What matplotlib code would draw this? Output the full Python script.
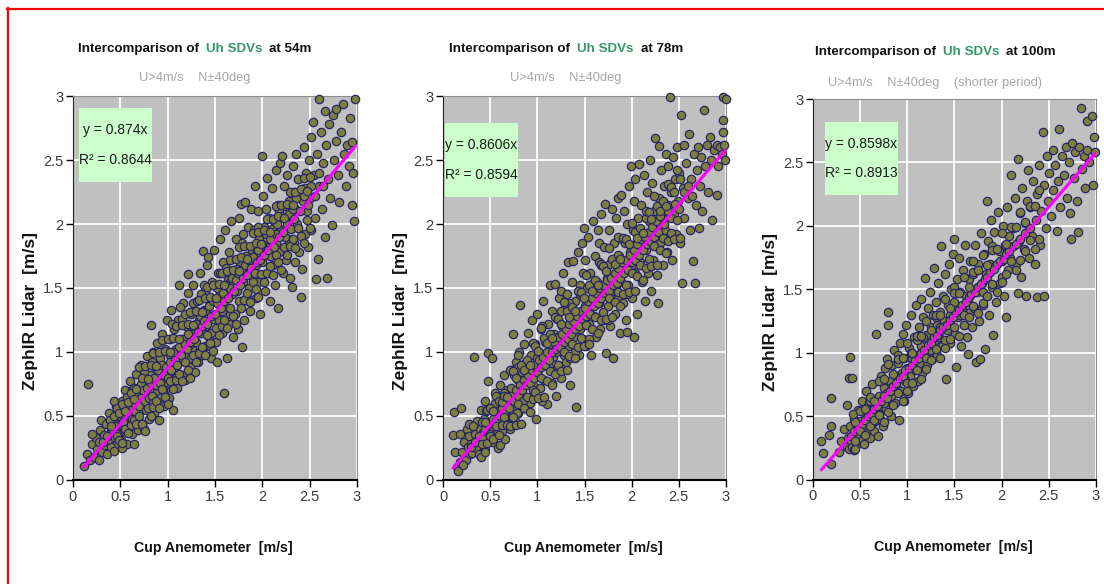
import matplotlib
matplotlib.use("Agg")
import matplotlib.pyplot as plt
from matplotlib.offsetbox import TextArea, HPacker, AnnotationBbox
from matplotlib.lines import Line2D
from matplotlib.patches import Rectangle
from matplotlib.ticker import FixedLocator, FixedFormatter

font = ['Liberation Sans', 'DejaVu Sans']

heights = ['54m', '78m', '100m']
subtitles = ['U>4m/s    N\u00b140deg', 'U>4m/s    N\u00b140deg', 'U>4m/s    N\u00b140deg    (shorter period)']
slopes = [0.874, 0.8606, 0.8598]
slope_labels = ['0.874', '0.8606', '0.8598']
r2_labels = ['0.8644', '0.8594', '0.8913']
ticks = [0, 0.5, 1, 1.5, 2, 2.5, 3]
tick_labels = ['0', '0.5', '1', '1.5', '2', '2.5', '3']
xlabel = 'Cup Anemometer  [m/s]'
ylabel = 'ZephIR Lidar  [m/s]'

pts54 = [
    (0.12,0.11),(0.16,0.75),(0.15,0.20),(0.18,0.16),(0.2,0.28),(0.22,0.18),(0.24,0.33),(0.25,0.24),
    (0.27,0.16),(0.28,0.30),(0.29,0.39),(0.2,0.36),(0.3,0.47),
    (0.31,0.22),(0.33,0.35),(0.34,0.27),(0.35,0.44),(0.37,0.31),(0.38,0.52),(0.4,0.38),(0.41,0.26),
    (0.42,0.45),(0.44,0.33),(0.45,0.58),(0.46,0.40),(0.47,0.28),(0.48,0.50),(0.49,0.36),(0.36,0.20),
    (0.43,0.62),(0.39,0.47),
    (0.5,0.44),(0.51,0.31),(0.52,0.62),(0.53,0.52),(0.54,0.38),(0.55,0.70),(0.56,0.47),(0.57,0.28),
    (0.58,0.57),(0.59,0.42),(0.6,0.77),(0.61,0.50),(0.62,0.36),(0.63,0.64),(0.64,0.28),(0.65,0.56),
    (0.66,0.45),(0.67,0.83),(0.68,0.60),(0.69,0.39),(0.52,0.25),(0.57,0.65),(0.62,0.70),(0.66,0.72),
    (0.7,0.52),(0.71,0.68),(0.72,0.90),(0.73,0.44),(0.74,0.62),(0.75,0.40),(0.76,0.76),(0.77,0.55),
    (0.78,0.97),(0.79,0.67),(0.8,0.48),(0.81,0.82),(0.82,1.21),(0.83,0.60),(0.84,0.73),(0.85,1.00),
    (0.86,0.52),(0.87,0.88),(0.88,0.68),(0.89,1.07),(0.72,0.75),(0.78,0.60),(0.84,0.92),(0.80,0.70),
    (0.9,0.78),(0.91,0.47),(0.92,0.95),(0.93,0.65),(0.94,1.14),(0.95,0.84),(0.96,0.58),(0.97,1.02),
    (0.98,0.74),(0.99,1.25),(1.0,0.90),(1.01,0.64),(1.02,1.10),(1.03,0.80),(1.04,1.33),(1.05,0.96),
    (1.06,0.55),(1.07,1.18),(1.08,0.86),(1.09,1.02),(0.93,0.88),(0.97,0.70),(1.02,0.98),(1.06,0.75),
    (1.1,0.72),(1.11,1.25),(1.12,1.52),(1.13,0.95),(1.14,1.10),(1.15,0.82),(1.16,1.38),(1.17,1.04),
    (1.18,0.78),(1.19,1.20),(1.2,0.94),(1.21,1.46),(1.22,1.61),(1.23,1.12),(1.24,0.88),(1.25,1.30),
    (1.26,1.02),(1.27,1.52),(1.28,1.18),(1.29,0.84),(1.13,1.35),(1.18,0.98),(1.24,1.06),(1.27,1.38),
    (1.3,1.08),(1.31,1.40),(1.32,0.92),(1.33,1.25),(1.34,1.62),(1.35,1.15),(1.36,0.98),(1.37,1.79),
    (1.38,1.33),(1.39,1.05),(1.4,1.48),(1.41,1.20),(1.42,1.68),(1.43,1.74),(1.44,1.12),(1.45,1.38),
    (1.46,0.95),(1.47,1.55),(1.48,1.26),(1.49,1.80),(1.33,1.00),(1.38,1.52),(1.42,1.30),(1.46,1.15),
    (1.5,1.40),(1.51,1.08),(1.52,0.92),(1.53,1.62),(1.54,1.25),(1.55,1.88),(1.56,1.48),(1.57,1.15),
    (1.58,1.70),(1.595,0.68),(1.6,1.35),(1.61,1.95),(1.62,1.22),(1.63,0.95),(1.64,1.56),(1.65,1.78),
    (1.66,1.30),(1.67,2.02),(1.68,1.45),(1.69,1.12),(1.52,1.50),(1.57,1.32),(1.62,1.66),(1.66,1.55),
    (1.7,1.62),(1.71,1.30),(1.72,1.88),(1.73,1.48),(1.74,1.18),(1.75,2.05),(1.76,1.70),(1.77,2.16),
    (1.78,1.40),(1.785,1.04),(1.79,1.85),(1.8,1.55),(1.81,1.25),(1.82,2.17),(1.83,1.75),(1.84,1.45),
    (1.85,1.98),(1.86,1.62),(1.87,1.32),(1.88,2.12),(1.89,1.80),(1.73,1.65),(1.8,1.92),(1.86,1.50),
    (1.9,1.58),(1.91,1.95),(1.92,2.30),(1.93,1.42),(1.94,1.78),(1.95,2.10),(1.96,1.55),(1.97,1.88),
    (1.98,1.30),(1.996,2.53),(2.0,1.70),(2.01,2.22),(2.02,1.98),(2.03,1.48),(2.04,1.82),(2.05,2.36),
    (2.06,1.62),(2.07,2.05),(2.08,1.40),(2.09,1.92),(1.93,1.68),(1.99,1.76),(2.04,2.12),(2.08,1.75),
    (2.1,2.28),(2.11,1.68),(2.12,2.02),(2.13,1.52),(2.14,2.42),(2.15,1.85),(2.165,1.34),(2.17,2.15),
    (2.18,1.78),(2.19,2.48),(2.2,1.95),(2.21,2.53),(2.22,1.62),(2.23,2.30),(2.24,2.05),(2.25,1.72),
    (2.26,2.38),(2.27,1.88),(2.28,2.18),(2.29,1.58),(2.12,1.90),(2.18,2.10),(2.24,1.90),
    (2.3,2.08),(2.31,1.51),(2.32,2.45),(2.33,1.85),(2.34,2.25),(2.35,1.70),(2.36,2.55),(2.37,2.00),
    (2.38,2.35),(2.39,1.78),(2.41,1.43),(2.42,1.65),(2.43,2.18),(2.44,2.60),(2.45,1.92),(2.46,2.40),
    (2.47,2.10),(2.48,1.82),(2.49,2.50),(2.35,2.12),(2.45,2.28),
    (2.5,2.20),(2.51,2.68),(2.52,1.95),(2.54,2.80),(2.55,2.38),(2.56,2.05),(2.57,1.57),(2.58,2.55),
    (2.59,1.73),(2.595,2.98),(2.6,2.30),(2.62,2.72),(2.63,2.12),(2.64,2.48),(2.66,1.90),(2.67,2.62),
    (2.68,1.58),(2.69,2.35),
    (2.7,2.78),(2.72,2.20),(2.74,1.99),(2.75,2.85),(2.76,2.50),(2.78,2.65),(2.8,2.38),(2.81,2.17),
    (2.83,2.72),(2.85,2.94),(2.86,2.55),(2.88,2.30),(2.9,2.62),(2.92,2.45),(2.93,2.83),(2.95,2.64),
    (2.95,2.15),(2.97,2.02),(2.98,2.98),(2.96,2.40),(2.78,2.90),(2.66,2.88),
]
core54 = [
    (0.32,0.30),(0.36,0.34),(0.41,0.40),(0.44,0.42),(0.47,0.36),(0.5,0.50),(0.53,0.45),(0.55,0.40),
    (0.58,0.52),(0.6,0.56),(0.62,0.48),(0.64,0.60),(0.66,0.54),(0.68,0.66),(0.7,0.58),(0.72,0.64),
    (0.74,0.70),(0.76,0.62),(0.78,0.72),(0.8,0.64),(0.82,0.76),(0.84,0.66),(0.86,0.80),(0.88,0.74),
    (0.9,0.86),(0.92,0.76),(0.94,0.90),(0.96,0.82),(0.98,0.88),(1.0,0.80),(1.02,0.92),(1.04,0.86),
    (1.06,1.00),(1.08,0.94),(1.1,0.90),(1.12,1.04),(1.14,0.98),(1.16,1.10),(1.18,1.06),(1.2,1.02),
    (1.22,1.14),(1.24,1.08),(1.26,1.20),(1.28,1.10),(1.3,1.22),(1.32,1.16),(1.34,1.28),(1.36,1.20),
    (1.38,1.24),(1.4,1.32),(1.42,1.22),(1.44,1.36),(1.46,1.28),(1.48,1.40),(1.5,1.30),(1.52,1.38),
    (1.54,1.44),(1.56,1.34),(1.58,1.46),(1.6,1.40),(1.62,1.52),(1.64,1.42),(1.66,1.50),(1.68,1.58),
    (1.7,1.48),(1.72,1.56),(1.74,1.62),(1.76,1.52),(1.78,1.64),(1.8,1.58),(1.82,1.68),(1.84,1.60),
    (1.86,1.72),(1.88,1.66),(1.9,1.74),(1.92,1.62),(1.94,1.70),(1.96,1.80),(1.98,1.72),(2.0,1.84),
    (2.02,1.76),(2.04,1.92),(2.06,1.80),(2.08,1.88),(2.1,1.96),(2.12,1.82),(2.14,1.92),(2.16,2.00),
    (2.18,1.90),(2.2,2.06),(2.22,1.94),(2.24,2.14),(2.26,2.00),(2.28,2.08),(2.3,1.96),(2.32,2.12),
    (2.34,2.04),(2.36,2.20),(2.4,2.10),(2.44,2.22),(2.48,2.15),(2.52,2.30),(2.56,2.22),(2.6,2.40),
    (2.64,2.30),(1.05,1.22),(1.15,1.26),(1.25,0.95),(1.35,1.45),(1.45,1.05),(1.55,1.62),(1.65,1.22),
    (1.75,1.82),(1.85,1.40),(1.95,1.98),(0.75,0.85),(0.85,0.60),(0.65,0.72),(0.55,0.58),(0.95,0.70),
]
band54 = [
    (0.40,0.42),(0.40,0.26),(0.43,0.50),(0.43,0.23),(0.46,0.56),(0.46,0.34),(0.49,0.52),(0.49,0.31),
    (0.52,0.59),(0.52,0.29),(0.55,0.54),(0.55,0.40),(0.58,0.61),(0.58,0.37),(0.61,0.68),(0.61,0.43),
    (0.64,0.63),(0.64,0.47),(0.67,0.71),(0.67,0.44),(0.70,0.88),(0.70,0.50),(0.73,0.80),(0.73,0.44),
    (0.76,0.89),(0.76,0.38),(0.79,0.79),(0.79,0.56),(0.82,0.90),(0.82,0.50),(0.85,0.99),(0.85,0.57),
    (0.88,0.89),(0.88,0.62),(0.91,1.00),(0.91,0.56),(0.94,1.09),(0.94,0.71),(0.97,1.01),(0.97,0.65),
    (1.00,1.10),(1.00,0.59),(1.03,1.00),(1.03,0.77),(1.06,1.11),(1.06,0.71),(1.09,1.20),(1.09,0.78),
    (1.12,1.10),(1.12,0.83),(1.15,1.21),(1.15,0.77),(1.18,1.30),(1.18,0.92),(1.21,1.22),(1.21,0.86),
    (1.24,1.31),(1.24,0.80),(1.27,1.21),(1.27,0.98),(1.30,1.32),(1.30,0.92),(1.33,1.41),(1.33,0.99),
    (1.36,1.31),(1.36,1.04),(1.39,1.42),(1.39,0.98),(1.42,1.51),(1.42,1.13),(1.45,1.43),(1.45,1.07),
    (1.48,1.52),(1.48,1.01),(1.51,1.42),(1.51,1.19),(1.54,1.53),(1.54,1.13),(1.57,1.62),(1.57,1.20),
    (1.60,1.52),(1.60,1.25),(1.63,1.63),(1.63,1.19),(1.66,1.72),(1.66,1.34),(1.69,1.64),(1.69,1.28),
    (1.72,1.73),(1.72,1.22),(1.75,1.63),(1.75,1.40),(1.78,1.74),(1.78,1.34),(1.81,1.83),(1.81,1.41),
    (1.84,1.73),(1.84,1.46),(1.87,1.83),(1.87,1.39),(1.90,1.93),(1.90,1.55),(1.93,1.85),(1.93,1.49),
    (1.96,1.94),(1.96,1.43),(1.99,1.84),(1.99,1.61),(2.02,1.95),(2.02,1.55),(2.05,2.04),(2.05,1.62),
    (2.08,1.94),(2.08,1.67),(2.11,2.04),(2.11,1.60),(2.14,2.14),(2.14,1.76),(2.17,2.06),(2.17,1.70),
    (2.20,2.15),(2.20,1.64),(2.23,2.05),(2.23,1.82),(2.26,2.16),(2.26,1.76),(2.29,2.25),(2.29,1.83),
    (2.32,2.15),(2.32,1.88),(2.35,2.25),(2.35,1.81),(2.38,2.35),(2.38,1.97),(2.41,2.27),(2.41,1.91),
    (2.44,2.36),(2.44,1.85),(2.47,2.26),(2.47,2.03),(2.50,2.37),(2.50,1.97),
]

pts78 = [
    (0.145,0.10),(0.16,0.07),(0.18,0.14),(0.117,0.53),(0.19,0.56),(0.11,0.35),(0.18,0.36),(0.25,0.40),
    (0.13,0.22),(0.2,0.22),(0.22,0.30),(0.24,0.16),(0.26,0.26),(0.28,0.34),(0.29,0.20),(0.21,0.12),
    (0.27,0.44),
    (0.3,0.28),(0.31,0.21),(0.33,0.96),(0.34,0.36),(0.35,0.25),(0.36,0.46),(0.37,0.31),(0.38,0.20),
    (0.39,0.40),(0.4,0.55),(0.41,0.29),(0.42,0.37),(0.43,0.48),(0.44,0.24),(0.45,0.62),(0.46,0.35),
    (0.47,0.44),(0.48,0.99),(0.48,0.77),(0.49,0.30),(0.32,0.42),(0.4,0.18),(0.46,0.54),
    (0.5,0.40),(0.51,0.56),(0.52,0.95),(0.53,0.30),(0.54,0.48),(0.55,0.68),(0.56,0.36),(0.57,0.58),
    (0.58,0.25),(0.59,0.45),(0.6,0.27),(0.6,0.74),(0.61,0.52),(0.62,0.38),(0.63,0.64),(0.64,0.46),
    (0.65,0.82),(0.66,0.32),(0.67,0.58),(0.68,0.70),(0.69,0.44),(0.55,0.52),(0.62,0.60),(0.67,0.50),
    (0.7,0.62),(0.71,0.40),(0.72,0.86),(0.73,0.55),(0.74,1.14),(0.75,0.70),(0.76,0.46),(0.77,0.92),
    (0.78,0.62),(0.79,0.78),(0.8,0.52),(0.81,1.00),(0.82,1.37),(0.83,0.68),(0.84,0.84),(0.85,0.56),
    (0.86,1.06),(0.87,0.75),(0.88,0.92),(0.89,0.64),(0.72,0.72),(0.78,0.52),(0.85,0.78),(0.8,0.88),
    (0.9,1.15),(0.91,0.82),(0.92,0.60),(0.93,0.98),(0.94,1.25),(0.95,0.74),(0.96,0.90),(0.97,1.06),
    (0.98,0.66),(0.99,0.48),(1.0,1.30),(1.01,0.86),(1.02,1.00),(1.03,0.72),(1.04,1.18),(1.05,0.92),
    (1.06,1.40),(1.07,0.78),(1.08,1.08),(1.09,0.95),(1.1,0.59),(0.93,0.84),(1.0,0.95),(1.05,0.62),
    (1.11,1.22),(1.12,0.88),(1.13,1.52),(1.14,1.04),(1.15,0.76),(1.16,1.32),(1.17,0.96),(1.18,1.14),
    (1.19,1.53),(1.2,0.66),(1.21,1.26),(1.22,0.90),(1.23,1.42),(1.24,1.08),(1.25,0.80),(1.26,1.20),
    (1.27,1.62),(1.28,0.98),(1.29,1.34),(1.15,1.12),(1.2,1.00),(1.25,1.48),(1.28,1.12),
    (1.3,0.92),(1.31,1.45),(1.32,1.16),(1.33,1.70),(1.34,1.05),(1.35,0.74),(1.36,1.30),(1.37,1.55),
    (1.38,1.71),(1.39,1.12),(1.4,1.40),(1.41,0.57),(1.42,1.22),(1.43,1.78),(1.44,0.98),(1.45,1.52),
    (1.46,1.30),(1.47,1.85),(1.48,1.10),(1.49,1.97),(1.34,1.38),(1.4,1.00),(1.45,1.18),(1.48,1.62),
    (1.5,1.36),(1.51,1.72),(1.52,1.05),(1.53,1.50),(1.54,1.90),(1.55,1.22),(1.56,1.62),(1.57,0.98),
    (1.58,1.42),(1.59,2.02),(1.6,1.28),(1.61,1.75),(1.62,1.12),(1.63,1.55),(1.64,1.95),(1.65,1.38),
    (1.66,1.18),(1.67,1.68),(1.68,2.08),(1.69,1.48),(1.54,1.35),(1.6,1.55),(1.65,1.85),
    (1.7,1.25),(1.71,1.82),(1.72,2.16),(1.73,0.99),(1.74,1.58),(1.75,1.36),(1.76,1.95),(1.77,1.20),
    (1.78,1.70),(1.79,2.12),(1.8,0.95),(1.8,1.48),(1.81,1.85),(1.82,1.30),(1.83,2.05),(1.84,1.62),
    (1.85,1.42),(1.86,2.20),(1.87,1.75),(1.88,1.15),(1.89,2.23),(1.89,1.55),(1.75,1.68),(1.83,1.50),
    (1.9,1.88),(1.91,1.38),(1.92,2.10),(1.93,1.65),(1.94,1.25),(1.95,1.16),(1.95,2.00),(1.96,1.52),
    (1.97,2.30),(1.98,1.78),(1.99,2.45),(2.0,1.42),(2.01,1.95),(2.02,1.12),(2.02,2.18),(2.03,1.62),
    (2.04,2.35),(2.05,1.85),(2.06,1.30),(2.07,2.05),(2.08,2.47),(2.09,1.70),(1.93,1.85),(2.0,1.68),
    (2.1,2.15),(2.11,1.55),(2.12,1.92),(2.13,2.38),(2.14,1.40),(2.15,1.80),(2.16,2.25),(2.17,1.62),
    (2.18,2.02),(2.19,2.50),(2.2,1.48),(2.21,1.88),(2.22,2.32),(2.23,1.72),(2.24,2.10),(2.25,2.67),
    (2.26,1.95),(2.27,1.60),(2.28,1.38),(2.29,2.61),(2.29,2.20),(2.15,2.05),
    (2.3,1.85),(2.31,2.42),(2.32,2.05),(2.33,1.68),(2.34,2.30),(2.35,1.95),(2.36,2.55),(2.37,1.78),
    (2.38,2.15),(2.39,2.45),(2.4,1.88),(2.41,2.99),(2.42,2.25),(2.43,1.72),(2.44,2.52),(2.45,2.08),
    (2.46,2.35),(2.47,1.92),(2.48,2.60),(2.49,2.18),
    (2.5,2.40),(2.51,1.85),(2.52,2.85),(2.53,1.54),(2.54,2.28),(2.55,2.62),(2.56,2.05),(2.58,2.48),
    (2.6,2.20),(2.61,2.70),(2.62,1.95),(2.63,2.35),(2.65,1.71),(2.66,2.55),(2.67,1.54),(2.68,2.15),
    (2.69,2.42),
    (2.7,2.60),(2.71,1.97),(2.72,2.30),(2.74,2.52),(2.75,2.10),(2.77,2.89),(2.78,2.45),(2.8,2.62),
    (2.81,2.25),(2.83,2.68),(2.84,2.50),(2.85,2.03),(2.87,2.58),(2.9,2.23),(2.9,2.62),(2.92,2.45),
    (2.94,2.60),(2.96,2.55),(2.97,2.81),(2.97,2.72),(2.97,2.99),(3.0,2.98),(2.98,2.62),(2.99,2.50),
]
core78 = [
    (0.3,0.26),(0.34,0.30),(0.38,0.34),(0.42,0.32),(0.45,0.40),(0.48,0.44),(0.5,0.36),(0.53,0.48),
    (0.56,0.46),(0.58,0.54),(0.6,0.50),(0.63,0.56),(0.65,0.52),(0.68,0.60),(0.7,0.56),(0.72,0.66),
    (0.75,0.62),(0.77,0.70),(0.8,0.66),(0.82,0.74),(0.84,0.70),(0.86,0.78),(0.88,0.74),(0.9,0.82),
    (0.92,0.76),(0.94,0.86),(0.96,0.80),(0.98,0.90),(1.0,0.84),(1.02,0.94),(1.04,0.88),(1.06,0.96),
    (1.08,0.90),(1.1,1.00),(1.12,0.94),(1.14,1.06),(1.16,1.00),(1.18,1.08),(1.2,1.02),(1.22,1.12),
    (1.24,1.04),(1.26,1.14),(1.28,1.08),(1.3,1.18),(1.32,1.10),(1.34,1.22),(1.36,1.14),(1.38,1.24),
    (1.4,1.18),(1.42,1.28),(1.44,1.20),(1.46,1.32),(1.48,1.26),(1.5,1.34),(1.52,1.28),(1.54,1.40),
    (1.56,1.30),(1.58,1.42),(1.6,1.36),(1.62,1.46),(1.64,1.38),(1.66,1.50),(1.68,1.42),(1.7,1.52),
    (1.72,1.46),(1.74,1.56),(1.76,1.48),(1.78,1.58),(1.8,1.52),(1.82,1.62),(1.84,1.54),(1.86,1.66),
    (1.88,1.58),(1.9,1.70),(1.92,1.62),(1.94,1.72),(1.96,1.64),(1.98,1.76),(2.0,1.70),(2.02,1.80),
    (2.04,1.72),(2.06,1.84),(2.08,1.76),(2.1,1.88),(2.12,1.80),(2.14,1.90),(2.16,1.84),(2.18,1.94),
    (2.2,1.86),(2.22,1.98),(2.24,1.90),(2.26,2.02),(2.28,1.94),(2.3,2.06),(2.34,2.00),(2.38,2.10),
    (2.42,2.05),(2.46,2.16),(2.5,2.12),(2.55,2.25),(2.6,2.30),(2.64,2.22),(1.05,1.20),(1.15,0.85),
    (1.25,1.32),(1.35,0.95),(1.45,1.45),(1.55,1.10),(1.65,1.70),(1.75,1.25),(1.85,1.90),(1.95,1.45),
    (0.75,0.82),(0.85,0.62),(0.65,0.68),(0.55,0.60),(0.95,0.70),
]
band78 = [
    (0.41,0.45),(0.41,0.28),(0.44,0.45),(0.44,0.22),(0.47,0.55),(0.47,0.29),(0.50,0.56),(0.50,0.34),
    (0.53,0.54),(0.53,0.32),(0.56,0.66),(0.56,0.42),(0.59,0.62),(0.59,0.35),(0.62,0.61),(0.62,0.43),
    (0.65,0.66),(0.65,0.49),(0.68,0.65),(0.68,0.43),(0.71,0.86),(0.71,0.42),(0.74,0.85),(0.74,0.49),
    (0.77,0.80),(0.77,0.43),(0.80,0.98),(0.80,0.59),(0.83,0.90),(0.83,0.44),(0.86,0.86),(0.86,0.56),
    (0.89,0.94),(0.89,0.65),(0.92,0.90),(0.92,0.53),(0.95,1.07),(0.95,0.63),(0.98,1.05),(0.98,0.69),
    (1.01,1.01),(1.01,0.64),(1.04,1.19),(1.04,0.80),(1.07,1.11),(1.07,0.65),(1.10,1.07),(1.10,0.77),
    (1.13,1.14),(1.13,0.85),(1.16,1.11),(1.16,0.74),(1.19,1.27),(1.19,0.83),(1.22,1.26),(1.22,0.90),
    (1.25,1.22),(1.25,0.85),(1.28,1.39),(1.28,1.00),(1.31,1.32),(1.31,0.86),(1.34,1.27),(1.34,0.97),
    (1.37,1.35),(1.37,1.06),(1.40,1.32),(1.40,0.95),(1.43,1.48),(1.43,1.04),(1.46,1.47),(1.46,1.11),
    (1.49,1.42),(1.49,1.05),(1.52,1.60),(1.52,1.21),(1.55,1.52),(1.55,1.06),(1.58,1.48),(1.58,1.18),
    (1.61,1.56),(1.61,1.27),(1.64,1.52),(1.64,1.15),(1.67,1.69),(1.67,1.25),(1.70,1.67),(1.70,1.31),
    (1.73,1.63),(1.73,1.26),(1.76,1.81),(1.76,1.42),(1.79,1.73),(1.79,1.27),(1.82,1.69),(1.82,1.39),
    (1.85,1.76),(1.85,1.47),(1.88,1.73),(1.88,1.36),(1.91,1.89),(1.91,1.45),(1.94,1.88),(1.94,1.52),
    (1.97,1.84),(1.97,1.47),(2.00,2.01),(2.00,1.62),(2.03,1.94),(2.03,1.48),(2.06,1.89),(2.06,1.59),
    (2.09,1.97),(2.09,1.68),(2.12,1.93),(2.12,1.56),(2.15,2.10),(2.15,1.66),(2.18,2.09),(2.18,1.73),
    (2.21,2.04),(2.21,1.67),(2.24,2.22),(2.24,1.83),(2.27,2.14),(2.27,1.68),(2.30,2.10),(2.30,1.80),
    (2.33,2.18),(2.33,1.89),(2.36,2.14),(2.36,1.77),(2.39,2.31),(2.39,1.87),(2.42,2.29),(2.42,1.93),
    (2.45,2.25),(2.45,1.88),(2.48,2.42),(2.48,2.03),(2.51,2.35),(2.51,1.89),
]

pts100 = [
    (0.09,0.30),(0.11,0.21),(0.19,0.42),(0.17,0.35),(0.19,0.12),(0.19,0.64),(0.30,0.30),(0.33,0.40),
    (0.28,0.22),
    (0.36,0.59),(0.38,0.80),(0.39,0.97),(0.41,0.80),(0.36,0.26),(0.37,0.33),(0.38,0.24),(0.39,0.42),
    (0.4,0.30),(0.41,0.26),(0.42,0.36),(0.43,0.23),(0.44,0.48),(0.45,0.32),(0.46,0.27),(0.47,0.40),
    (0.48,0.55),(0.49,0.35),(0.42,0.52),(0.45,0.24),
    (0.5,0.46),(0.51,0.30),(0.52,0.62),(0.53,0.40),(0.54,0.28),(0.55,0.52),(0.56,0.70),(0.57,0.37),
    (0.58,0.48),(0.59,0.60),(0.6,0.33),(0.61,0.55),(0.62,0.42),(0.63,0.75),(0.64,0.50),(0.65,0.38),
    (0.66,0.62),(0.67,1.15),(0.68,0.55),(0.69,0.34),(0.53,0.55),(0.6,0.45),(0.66,0.46),
    (0.7,0.66),(0.71,0.48),(0.72,0.82),(0.73,0.58),(0.74,0.42),(0.75,0.72),(0.76,0.88),(0.77,0.56),
    (0.78,0.68),(0.79,0.95),(0.8,1.32),(0.8,1.22),(0.81,0.62),(0.82,0.78),(0.83,0.50),(0.84,0.90),
    (0.85,0.70),(0.86,1.02),(0.87,0.60),(0.88,0.82),(0.89,0.72),(0.75,0.60),(0.83,0.66),
    (0.9,0.92),(0.91,0.47),(0.92,1.08),(0.93,0.70),(0.94,0.84),(0.95,1.15),(0.96,0.62),(0.97,0.96),
    (0.98,0.78),(0.99,1.22),(1.0,0.88),(1.01,0.68),(1.02,1.04),(1.03,0.82),(1.04,1.30),(1.05,0.95),
    (1.06,0.74),(1.07,1.12),(1.08,0.86),(1.09,1.38),(0.96,0.80),(1.04,1.00),
    (1.1,0.98),(1.11,0.78),(1.12,1.20),(1.13,0.92),(1.14,1.42),(1.15,1.05),(1.16,0.84),(1.17,1.28),
    (1.18,1.00),(1.19,1.59),(1.2,1.14),(1.21,0.90),(1.22,1.35),(1.23,1.06),(1.24,1.48),(1.25,1.20),
    (1.26,0.95),(1.27,1.30),(1.28,1.67),(1.29,1.10),(1.17,1.12),(1.25,1.02),
    (1.3,1.40),(1.31,0.98),(1.32,1.22),(1.33,1.55),(1.34,1.12),(1.35,1.32),(1.36,1.84),(1.37,1.05),
    (1.38,1.45),(1.39,1.25),(1.4,1.62),(1.41,0.79),(1.42,1.18),(1.43,1.38),(1.44,1.70),(1.45,1.08),
    (1.46,1.50),(1.47,1.28),(1.48,1.78),(1.49,1.90),(1.35,1.20),(1.45,1.30),
    (1.5,1.40),(1.51,1.15),(1.52,0.89),(1.53,1.58),(1.54,1.28),(1.55,1.75),(1.56,1.48),(1.57,1.05),
    (1.58,1.35),(1.59,1.65),(1.6,1.22),(1.61,1.85),(1.62,1.45),(1.63,1.12),(1.64,0.99),(1.65,1.58),
    (1.66,1.32),(1.67,1.72),(1.68,1.50),(1.69,1.20),(1.56,1.30),(1.64,1.40),
    (1.7,1.62),(1.71,1.35),(1.72,1.85),(1.73,0.93),(1.74,1.48),(1.75,1.70),(1.76,1.25),(1.77,0.95),
    (1.78,1.94),(1.79,1.55),(1.8,1.38),(1.81,1.78),(1.82,1.03),(1.83,1.62),(1.84,2.20),(1.85,1.45),
    (1.86,1.88),(1.87,1.30),(1.88,1.70),(1.89,2.05),(1.75,1.52),
    (1.9,1.52),(1.91,1.14),(1.92,1.95),(1.93,1.68),(1.94,1.40),(1.96,2.11),(1.97,1.80),(1.98,1.55),
    (2.0,1.72),(2.01,2.00),(2.02,1.45),(2.04,1.85),(2.05,1.28),(2.06,2.15),(2.07,1.65),(2.08,1.92),
    (2.1,2.40),(2.09,1.75),
    (2.12,1.98),(2.14,2.22),(2.15,1.70),(2.17,2.53),(2.17,1.47),(2.18,1.88),(2.2,2.10),(2.21,1.60),
    (2.22,2.30),(2.24,1.82),(2.25,2.02),(2.26,1.45),(2.27,2.20),(2.28,2.44),(2.29,1.75),
    (2.3,2.15),(2.32,1.92),(2.33,2.35),(2.35,1.70),(2.36,2.05),(2.37,1.44),(2.38,2.25),(2.4,2.48),
    (2.41,1.85),(2.42,2.12),(2.44,2.74),(2.45,1.45),(2.45,2.32),(2.47,1.98),(2.48,2.55),(2.49,2.20),
    (2.5,2.42),(2.52,2.08),(2.54,2.60),(2.55,2.28),(2.57,2.48),(2.59,1.96),(2.6,2.35),(2.61,2.76),
    (2.62,2.15),(2.64,2.55),(2.66,2.40),(2.68,2.62),(2.69,2.22),
    (2.71,2.50),(2.72,2.10),(2.74,1.90),(2.75,2.65),(2.77,2.38),(2.78,2.58),(2.8,2.20),(2.81,1.95),
    (2.82,2.62),(2.84,2.93),(2.85,2.45),(2.87,2.55),(2.88,2.30),(2.9,2.60),(2.91,2.83),(2.93,2.50),
    (2.96,2.87),(2.97,2.32),(2.98,2.70),(2.99,2.58),
]
core100 = [
    (0.4,0.34),(0.44,0.38),(0.48,0.40),(0.52,0.44),(0.55,0.47),(0.58,0.50),(0.62,0.52),(0.65,0.56),
    (0.68,0.58),(0.72,0.62),(0.75,0.66),(0.78,0.64),(0.82,0.70),(0.85,0.74),(0.88,0.76),(0.92,0.80),
    (0.95,0.82),(0.98,0.86),(1.02,0.88),(1.05,0.90),(1.08,0.94),(1.12,0.96),(1.15,1.00),(1.18,1.02),
    (1.22,1.06),(1.25,1.08),(1.28,1.12),(1.32,1.14),(1.35,1.18),(1.38,1.20),(1.42,1.22),(1.45,1.26),
    (1.48,1.28),(1.52,1.32),(1.55,1.34),(1.58,1.38),(1.62,1.40),(1.65,1.44),(1.68,1.46),(1.72,1.48),
    (1.75,1.52),(1.78,1.54),(1.82,1.58),(1.85,1.60),(1.88,1.64),(1.92,1.66),(1.95,1.70),(1.98,1.72),
    (2.02,1.74),(2.05,1.78),(2.08,1.80),(2.12,1.84),(2.15,1.86),(2.2,1.90),(2.25,1.94),(2.3,1.98),
    (0.6,0.62),(0.7,0.52),(0.9,0.98),(1.0,0.76),(1.1,1.10),(1.2,0.96),(1.3,1.28),(1.4,1.10),
    (1.5,1.52),(1.6,1.30),(1.7,1.72),(1.8,1.48),(1.9,1.84),(2.0,1.60),
]
band100 = [
    (0.45,0.45),(0.45,0.30),(0.50,0.54),(0.50,0.38),(0.55,0.56),(0.55,0.35),(0.60,0.65),(0.60,0.42),
    (0.65,0.62),(0.65,0.47),(0.70,0.78),(0.70,0.51),(0.75,0.79),(0.75,0.45),(0.80,0.91),(0.80,0.53),
    (0.85,0.83),(0.85,0.59),(0.90,0.95),(0.90,0.68),(0.95,0.96),(0.95,0.62),(1.00,1.08),(1.00,0.70),
    (1.05,1.00),(1.05,0.76),(1.10,1.13),(1.10,0.86),(1.15,1.13),(1.15,0.79),(1.20,1.25),(1.20,0.87),
    (1.25,1.18),(1.25,0.94),(1.30,1.30),(1.30,1.03),(1.35,1.30),(1.35,0.96),(1.40,1.42),(1.40,1.04),
    (1.45,1.35),(1.45,1.11),(1.50,1.47),(1.50,1.20),(1.55,1.47),(1.55,1.13),(1.60,1.60),(1.60,1.22),
    (1.65,1.52),(1.65,1.28),(1.70,1.64),(1.70,1.37),(1.75,1.65),(1.75,1.31),(1.80,1.77),(1.80,1.39),
    (1.85,1.69),(1.85,1.45),(1.90,1.81),(1.90,1.54),(1.95,1.82),(1.95,1.48),(2.00,1.94),(2.00,1.56),
    (2.05,1.86),(2.05,1.62),(2.10,1.99),(2.10,1.72),(2.15,1.99),(2.15,1.65),(2.20,2.11),(2.20,1.73),
    (2.25,2.03),(2.25,1.80),(2.30,2.16),(2.30,1.89),(2.35,2.16),(2.35,1.82),(2.40,2.28),(2.40,1.90),
]

panels = [pts54 + core54 + band54, pts78 + core78 + band78, pts100 + core100 + band100]

# axes rectangles in figure fractions
rects = [
    [0.0661, 0.1781, 0.2572, 0.6575],
    [0.4013, 0.1781, 0.2563, 0.6575],
    [0.7364, 0.1789, 0.2563, 0.6515],
]
title_pos = [(0.1766, 1 - 49/584), (0.5127, 1 - 49/584), (0.8474, 1 - 52/584)]
sub_pos = [(0.1766, 1 - 78/584), (0.5127, 1 - 78/584), (0.8474, 1 - 83/584)]
eq_boxes = [(0.021, 0.776, 0.257, 0.193), (0.007, 0.737, 0.258, 0.193), (0.042, 0.748, 0.258, 0.192)]


def titleBox(ax, pos, height):
    props = dict(family=font, weight='bold', size=9.6, color='#111111')
    green = dict(props, color='#339966')
    parts = [TextArea("Intercomparison of", textprops=props),
             TextArea("Uh SDVs", textprops=green),
             TextArea("at " + height, textprops=props)]
    box = HPacker(children=parts, align='baseline', pad=0, sep=5)
    ab = AnnotationBbox(box, pos, xycoords='figure fraction', frameon=False,
                        box_alignment=(0.5, 0.5), annotation_clip=False)
    ax.add_artist(ab)


def drawPanel(fig, i):
    ax = fig.add_axes(rects[i])
    ax.set_facecolor('#c0c0c0')
    xs = [p[0] for p in panels[i]]
    ys = [p[1] for p in panels[i]]
    ax.scatter(xs, ys, s=36, c='#7f7f3c', edgecolors='#262668', linewidths=0.9,
               zorder=3, clip_on=False)
    lx = [min(xs), max(xs)]
    ax.plot(lx, [slopes[i] * v for v in lx], color='#ff00ff', lw=2.2, zorder=4)

    ax.set_xlim(0, 3)
    ax.set_ylim(0, 3)
    ax.xaxis.set_major_locator(FixedLocator(ticks))
    ax.yaxis.set_major_locator(FixedLocator(ticks))
    ax.xaxis.set_major_formatter(FixedFormatter(tick_labels))
    ax.yaxis.set_major_formatter(FixedFormatter(tick_labels))
    ax.grid(True, color='white', lw=1.3)
    ax.set_axisbelow(True)
    ax.tick_params(direction='out', length=5, width=1, color='black', pad=2,
                   labelsize=10.5, labelcolor='#3a3a3a')
    for lab in ax.get_xticklabels() + ax.get_yticklabels():
        lab.set_family(font)
    ax.spines['bottom'].set_color('black')
    ax.spines['bottom'].set_linewidth(1.5)
    ax.spines['left'].set_color('#222222')
    for s in ['top', 'right']:
        ax.spines[s].set_color('#8c8c8c')
        ax.spines[s].set_linewidth(0.8)

    bx, by, bw, bh = eq_boxes[i]
    ax.add_patch(Rectangle((bx, by), bw, bh, transform=ax.transAxes,
                           facecolor='#ccffcc', edgecolor='none', zorder=5))
    ax.text(bx + bw/2, by + bh*0.70, 'y = ' + slope_labels[i] + 'x', transform=ax.transAxes,
            ha='center', va='center', family=font, size=10, color='#1a1a1a', zorder=6)
    ax.text(bx + bw/2, by + bh*0.30, 'R\u00b2 = ' + r2_labels[i], transform=ax.transAxes,
            ha='center', va='center', family=font, size=10, color='#1a1a1a', zorder=6)

    ax.text(0.495, -0.178, xlabel, transform=ax.transAxes, ha='center', va='center',
            family=font, weight='bold', size=10.2, color='#111111')
    ax.text(-0.151, 0.44, ylabel, transform=ax.transAxes, ha='center', va='center',
            rotation=90, family=font, weight='bold', size=12.5, color='#111111')

    titleBox(ax, title_pos[i], heights[i])
    fig.text(sub_pos[i][0], sub_pos[i][1], subtitles[i], ha='center', va='center',
             family=font, size=9.3, color='#a6a6a6')
    return ax


def main():
    fig = plt.figure(figsize=(11.04, 5.84), dpi=100)
    fig.patch.set_facecolor('white')
    for i in range(3):
        drawPanel(fig, i)
    # red frame on the top and left edges
    fig.add_artist(Line2D([7/1104, 1], [1 - 8.5/584, 1 - 8.5/584], color='#ff0000', lw=1.6,
                          transform=fig.transFigure))
    fig.add_artist(Line2D([7.5/1104, 7.5/1104], [0, 1 - 8/584], color='#ff0000', lw=1.6,
                          transform=fig.transFigure))
    fig.savefig('out.png', dpi=100)
    return "done"


print(main())
